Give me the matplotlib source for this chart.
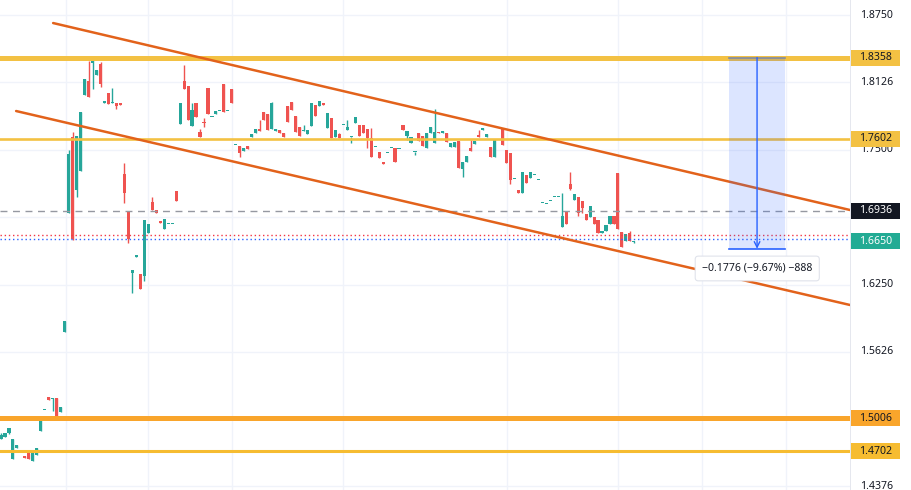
import matplotlib
matplotlib.use('Agg')
import matplotlib.pyplot as plt
from matplotlib.patches import Rectangle

# ---------------- data ----------------
opens = [1.4816, 1.4835, 1.4872, 1.4630, 1.4732, 1.4684, 1.4658, 1.4686, 1.4612, 1.4667,
         1.4890, 1.5083, 1.5206, 1.5187, 1.5197, 1.5067, 1.5809, 1.6914, 1.7620, 1.7128,
         1.7304, 1.8010, 1.8140, 1.8307, 1.8196, 1.8298, 1.7936, 1.8028, 1.7934, 1.7936,
         1.7936, 1.7276, 1.6924, 1.6357, 1.6506, 1.6348, 1.6329, 1.6729, 1.7016, 1.6942,
         1.6840, 1.6766, 1.6810, 1.6810, 1.7119, 1.7741, 1.8140, 1.8093, 1.7722, 1.7936,
         1.7666, 1.7759, 1.8075, 1.7804, 1.7834, 1.7859, 1.8112, 1.7859, 1.8066, 1.7544,
         1.7536, 1.7490, 1.7536, 1.7620, 1.7657, 1.7694, 1.7852, 1.7834, 1.7694, 1.7676,
         1.7685, 1.7657, 1.7908, 1.7945, 1.7815, 1.7713, 1.7674, 1.7648, 1.7722, 1.7917,
         1.7908, 1.7936, 1.7704, 1.7796, 1.7620, 1.7648, 1.7729, 1.7685, 1.7618, 1.7750,
         1.7731, 1.7731, 1.7694, 1.7611, 1.7525, 1.7481, 1.7388, 1.7469, 1.7516, 1.7518,
         1.7507, 1.7731, 1.7629, 1.7564, 1.7479, 1.7657, 1.7629, 1.7518, 1.7657, 1.7564,
         1.7666, 1.7657, 1.7657, 1.7527, 1.7527, 1.7583, 1.7323, 1.7388, 1.7518, 1.7555,
         1.7639, 1.7685, 1.7620, 1.7527, 1.7434, 1.7702, 1.7694, 1.7499, 1.7471, 1.7228,
         1.7128, 1.7100, 1.7267, 1.7239, 1.7265, 1.7219, 1.7005, 1.6996, 1.7024, 1.7061,
         1.7061, 1.6784, 1.6924, 1.7184, 1.7035, 1.7063, 1.7026, 1.6905, 1.6877, 1.6877,
         1.6849, 1.6729, 1.6747, 1.6812, 1.6886, 1.7286, 1.6738, 1.6654, 1.6729, 1.6646]
highs = [1.4872, 1.4872, 1.4918, 1.4816, 1.4760, 1.4688, 1.4658, 1.4686, 1.4705, 1.4732,
         1.4992, 1.5087, 1.5206, 1.5197, 1.5197, 1.5113, 1.5912, 1.7499, 1.7666, 1.7629,
         1.7852, 1.8158, 1.8326, 1.8363, 1.8242, 1.8316, 1.7954, 1.8028, 1.8075, 1.7936,
         1.7936, 1.7379, 1.6924, 1.6385, 1.6524, 1.6348, 1.6849, 1.6812, 1.7063, 1.6942,
         1.6840, 1.6859, 1.6814, 1.6814, 1.7119, 1.7936, 1.8288, 1.8093, 1.7936, 1.7936,
         1.7694, 1.7796, 1.8075, 1.7808, 1.7861, 1.7863, 1.8112, 1.7863, 1.8066, 1.7548,
         1.7536, 1.7518, 1.7536, 1.7648, 1.7694, 1.7778, 1.7852, 1.7834, 1.7945, 1.7694,
         1.7685, 1.7657, 1.7908, 1.7945, 1.7815, 1.7713, 1.7731, 1.7685, 1.7936, 1.7917,
         1.7954, 1.7936, 1.7843, 1.7796, 1.7685, 1.7657, 1.7733, 1.7778, 1.7622, 1.7806,
         1.7731, 1.7731, 1.7694, 1.7704, 1.7529, 1.7481, 1.7388, 1.7473, 1.7520, 1.7518,
         1.7511, 1.7731, 1.7676, 1.7620, 1.7483, 1.7657, 1.7629, 1.7657, 1.7713, 1.7880,
         1.7666, 1.7676, 1.7657, 1.7564, 1.7574, 1.7583, 1.7388, 1.7444, 1.7592, 1.7583,
         1.7685, 1.7704, 1.7648, 1.7527, 1.7592, 1.7706, 1.7704, 1.7499, 1.7471, 1.7232,
         1.7128, 1.7295, 1.7267, 1.7295, 1.7269, 1.7223, 1.7009, 1.7000, 1.7028, 1.7065,
         1.7065, 1.7100, 1.6924, 1.7295, 1.7091, 1.7063, 1.7026, 1.6905, 1.6979, 1.6877,
         1.6849, 1.6747, 1.6803, 1.6886, 1.6886, 1.7286, 1.6738, 1.6719, 1.6747, 1.6650]
lows = [1.4816, 1.4835, 1.4862, 1.4630, 1.4732, 1.4684, 1.4640, 1.4630, 1.4612, 1.4667,
        1.4890, 1.5083, 1.5178, 1.5076, 1.5011, 1.5067, 1.5809, 1.6914, 1.6664, 1.7063,
        1.7304, 1.8010, 1.7991, 1.8066, 1.8196, 1.8084, 1.7936, 1.7926, 1.7934, 1.7880,
        1.7917, 1.7007, 1.6636, 1.6171, 1.6506, 1.6209, 1.6283, 1.6729, 1.6942, 1.6914,
        1.6821, 1.6766, 1.6810, 1.6810, 1.7026, 1.7741, 1.8066, 1.7778, 1.7722, 1.7806,
        1.7620, 1.7713, 1.7834, 1.7804, 1.7834, 1.7859, 1.7852, 1.7859, 1.7936, 1.7544,
        1.7434, 1.7490, 1.7509, 1.7620, 1.7657, 1.7676, 1.7778, 1.7685, 1.7694, 1.7676,
        1.7657, 1.7620, 1.7759, 1.7871, 1.7666, 1.7629, 1.7674, 1.7648, 1.7722, 1.7815,
        1.7908, 1.7917, 1.7704, 1.7611, 1.7620, 1.7611, 1.7729, 1.7685, 1.7564, 1.7750,
        1.7629, 1.7657, 1.7518, 1.7434, 1.7525, 1.7425, 1.7369, 1.7469, 1.7516, 1.7388,
        1.7507, 1.7685, 1.7592, 1.7564, 1.7453, 1.7583, 1.7536, 1.7518, 1.7657, 1.7564,
        1.7657, 1.7657, 1.7574, 1.7527, 1.7527, 1.7332, 1.7249, 1.7388, 1.7490, 1.7555,
        1.7620, 1.7685, 1.7620, 1.7434, 1.7434, 1.7702, 1.7546, 1.7379, 1.7184, 1.7228,
        1.7100, 1.7100, 1.7193, 1.7239, 1.7265, 1.7219, 1.7005, 1.6996, 1.7024, 1.7061,
        1.7061, 1.6784, 1.6812, 1.7128, 1.7035, 1.6886, 1.6914, 1.6849, 1.6877, 1.6812,
        1.6729, 1.6729, 1.6747, 1.6812, 1.6812, 1.6766, 1.6599, 1.6654, 1.6654, 1.6636]
closes = [1.4853, 1.4872, 1.4918, 1.4816, 1.4760, 1.4688, 1.4640, 1.4630, 1.4705, 1.4732,
          1.4983, 1.5087, 1.5178, 1.5197, 1.5029, 1.5113, 1.5912, 1.7462, 1.6673, 1.7629,
          1.7852, 1.8158, 1.7991, 1.8326, 1.8242, 1.8112, 1.7954, 1.7926, 1.7938, 1.7908,
          1.7917, 1.7100, 1.6673, 1.6385, 1.6524, 1.6209, 1.6849, 1.6812, 1.6942, 1.6914,
          1.6821, 1.6859, 1.6814, 1.6814, 1.7026, 1.7936, 1.8066, 1.7778, 1.7871, 1.7806,
          1.7620, 1.7750, 1.7834, 1.7808, 1.7861, 1.7863, 1.7852, 1.7863, 1.7936, 1.7548,
          1.7471, 1.7518, 1.7509, 1.7648, 1.7694, 1.7676, 1.7778, 1.7685, 1.7936, 1.7694,
          1.7657, 1.7620, 1.7759, 1.7871, 1.7666, 1.7629, 1.7678, 1.7685, 1.7936, 1.7815,
          1.7954, 1.7917, 1.7843, 1.7611, 1.7685, 1.7611, 1.7733, 1.7713, 1.7622, 1.7806,
          1.7629, 1.7657, 1.7611, 1.7434, 1.7529, 1.7425, 1.7369, 1.7473, 1.7520, 1.7388,
          1.7511, 1.7685, 1.7676, 1.7620, 1.7483, 1.7583, 1.7536, 1.7657, 1.7713, 1.7666,
          1.7657, 1.7676, 1.7574, 1.7564, 1.7574, 1.7332, 1.7388, 1.7444, 1.7490, 1.7583,
          1.7620, 1.7704, 1.7648, 1.7434, 1.7592, 1.7706, 1.7546, 1.7379, 1.7221, 1.7232,
          1.7100, 1.7295, 1.7193, 1.7295, 1.7269, 1.7223, 1.7009, 1.7000, 1.7028, 1.7065,
          1.7065, 1.6886, 1.6812, 1.7137, 1.7091, 1.6914, 1.6961, 1.6849, 1.6979, 1.6812,
          1.6729, 1.6747, 1.6803, 1.6886, 1.6812, 1.6766, 1.6599, 1.6719, 1.6654, 1.6650]

level_prices = [1.8358, 1.7602, 1.5006, 1.4702]
level_labels = ['1.8358', '1.7602', '1.5006', '1.4702']
level_colors = ['#F3C143', '#F3C143', '#F9A52B', '#F6BC31']
level_widths = [3.6, 1.9, 3.6, 2.2]

upper_channel_x = [13.1, 213.3]
upper_channel_y = [1.8678, 1.6942]
lower_channel_x = [3.8, 213.3]
lower_channel_y = [1.7861, 1.6060]

mark_price = 1.6936
last_price = 1.6650
ask_price = 1.6707
bid_price = 1.6676
top_badge_price = 1.8976

measure_x = [182.9, 197.0]
measure_top = 1.8358
measure_bottom = 1.6582
measure_label = '\u22120.1776 (\u22129.67%) \u2212888'
measure_label_pos = (190.0, 1.6399)

grid_values = [1.8750, 1.8126, 1.7500, 1.6875, 1.6250, 1.5626, 1.5000, 1.4376]
tick_values = [1.8750, 1.8126, 1.7500, 1.6250, 1.5626, 1.4376]
tick_labels = ['1.8750', '1.8126', '1.7500', '1.6250', '1.5626', '1.4376']
vgrid_x = [16.3, 36.9, 58.0, 85.9, 127.1, 155.0, 176.1, 197.2]

# ---------------- figure ----------------
plt.rcParams['font.family'] = ['Noto Sans', 'DejaVu Sans']
W, H = 911, 490
fig = plt.figure(figsize=(W / 100, H / 100), dpi=100)
fig.patch.set_facecolor('white')

YLIM = (1.4342, 1.8892)
px = (YLIM[1] - YLIM[0]) / H  # price per pixel

ax = fig.add_axes([0, 0, 850 / W, 1])
ax.set_xlim(-0.25, 213.3)
ax.set_ylim(*YLIM)
ax.axis('off')

# grid
for t in grid_values:
    ax.axhline(t, color='#f0f3fa', lw=1, zorder=0)
for xv in vgrid_x:
    ax.axvline(xv, color='#f0f3fa', lw=1, zorder=0)

# candles
UP, DN = '#26a69a', '#ef5350'
for i, (o, h, l, c) in enumerate(zip(opens, highs, lows, closes)):
    col = UP if c >= o else DN
    ax.vlines(i, l, h, color=col, lw=1, zorder=2)
    bot = min(o, c)
    hgt = max(abs(c - o), px * 1.2)
    ax.bar(i, hgt, bottom=bot, width=0.78, color=col, lw=0, zorder=2)

# horizontal levels
for p, col, lw in zip(level_prices, level_colors, level_widths):
    ax.axhline(p, color=col, lw=lw, zorder=3)

# mark price / bid / ask
ax.axhline(mark_price, color='#9598a1', lw=1, ls=(0, (5, 4)), zorder=3)
ax.axhline(ask_price, color='#f23645', lw=1, ls=(0, (1, 2)), zorder=3)
ax.axhline(bid_price, color='#2962ff', lw=1, ls=(0, (1, 2)), zorder=3)

# channel
ax.plot(upper_channel_x, upper_channel_y, color='#E2621B', lw=1.8, zorder=4,
        solid_capstyle='round')
ax.plot(lower_channel_x, lower_channel_y, color='#E2621B', lw=1.8, zorder=4,
        solid_capstyle='round')

# measurement tool
ax.add_patch(Rectangle((measure_x[0], measure_bottom), measure_x[1] - measure_x[0],
                       measure_top - measure_bottom, fc='#2962ff', alpha=0.16,
                       lw=0, zorder=5))
ax.plot(measure_x, [measure_top, measure_top], color='#7f8ba6', lw=1.2, zorder=5)
ax.plot(measure_x, [measure_bottom, measure_bottom], color='#2962ff', lw=1.2, zorder=5)
xm = sum(measure_x) / 2
ax.annotate('', xy=(xm, measure_bottom), xytext=(xm, measure_top),
            arrowprops=dict(arrowstyle='->', color='#2962ff', lw=1,
                            shrinkA=0, shrinkB=0, mutation_scale=10), zorder=6)
ax.text(measure_label_pos[0], measure_label_pos[1], measure_label, fontsize=7.6,
        ha='center', va='center', color='#131722', zorder=7,
        bbox=dict(boxstyle='round,pad=0.65,rounding_size=0.3', fc='white',
                  ec='#e0e3eb', lw=0.8))

# ---------------- price scale ----------------
ax2 = fig.add_axes([850 / W, 0, 61 / W, 1])
ax2.set_xlim(0, 61)
ax2.set_ylim(*YLIM)
ax2.axis('off')
ax2.axvline(0.3, color='#e0e3eb', lw=1.2, zorder=1)

for t, lab in zip(tick_values, tick_labels):
    ax2.text(26.5, t, lab, fontsize=7.6, ha='center', va='center',
             color='#131722', zorder=2)

def badge(price, text, fc, tc):
    h = 16 * px
    ax2.add_patch(Rectangle((0.5, price - h / 2), 49.5, h, fc=fc, ec='none', zorder=5))
    if text:
        ax2.text(25.5, price, text, fontsize=7.6, ha='center', va='center',
                 color=tc, zorder=6)

for p, lab, col in zip(level_prices, level_labels, level_colors):
    badge(p, lab, col, '#131722')
badge(mark_price, '1.6936', '#131722', 'white')
badge(last_price, '1.6650', '#22ab94', 'white')
# top badge is cut off by the chart edge in the reference; only its sliver shows
badge(top_badge_price, '', '#F57C3A', 'white')

fig.savefig('out.png', dpi=100, facecolor='white')
